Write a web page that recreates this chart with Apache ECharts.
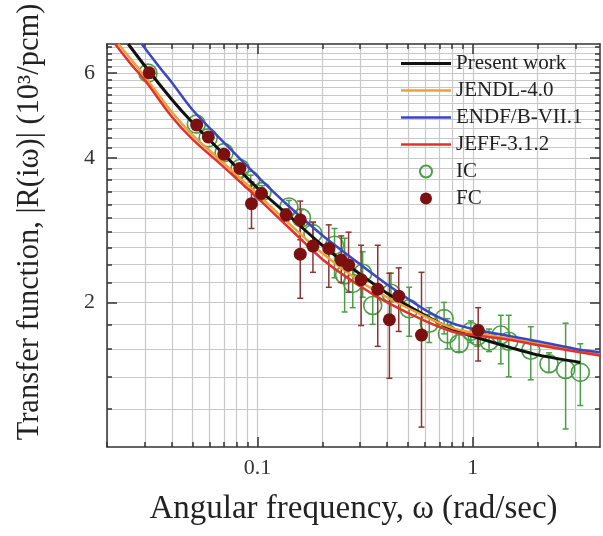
<!DOCTYPE html>
<html>
<head>
<meta charset="utf-8">
<script src="https://cdn.jsdelivr.net/npm/echarts@6/dist/echarts.min.js"></script>
<style>
  html, body { margin: 0; padding: 0; background: #fff; }
  #chart { width: 603px; height: 536px; }
</style>
</head>
<body>
<div id="chart"></div>
<script>
// tick values
var xMajor = [0.1, 1]
var xGrid = [0.02, 0.03, 0.04, 0.05, 0.06, 0.07, 0.08, 0.09, 0.1,
  0.2, 0.3, 0.4, 0.5, 0.6, 0.7, 0.8, 0.9, 1, 2, 3]
var yMajor = [2, 4, 6]
var yGrid = [1.2, 1.4, 1.6, 1.8, 2, 2.2, 2.4, 2.6, 2.8, 3, 3.2, 3.4, 3.6, 3.8, 4,
  4.2, 4.4, 4.6, 4.8, 5, 5.2, 5.4, 5.6, 5.8, 6, 6.2, 6.4, 6.6, 6.8]

// calculated curves [omega, |R|]
var presentWork = [[0.0251, 6.9], [0.03, 6.21], [0.04, 5.29], [0.05, 4.73], [0.07, 4.06],
  [0.1, 3.46], [0.14, 3.03], [0.2, 2.63], [0.3, 2.29], [0.4, 2.09], [0.6, 1.88],
  [0.8, 1.76], [1, 1.7], [1.5, 1.61], [2, 1.555], [3.16, 1.5]]
var jendl = [[0.0226, 6.9], [0.03, 5.9], [0.04, 4.98], [0.05, 4.46], [0.07, 3.89],
  [0.1, 3.36], [0.14, 2.92], [0.2, 2.53], [0.3, 2.21], [0.4, 2.05], [0.6, 1.87],
  [0.8, 1.77], [1, 1.73], [1.5, 1.68], [2, 1.64], [3, 1.59], [3.9, 1.56]]
var endf = [[0.029, 6.9], [0.035, 6.18], [0.04, 5.74], [0.05, 5.03], [0.07, 4.3],
  [0.1, 3.66], [0.14, 3.17], [0.2, 2.76], [0.3, 2.4], [0.4, 2.18], [0.6, 1.93],
  [0.8, 1.81], [1, 1.76], [1.5, 1.7], [2, 1.66], [3, 1.6], [3.9, 1.575]]
var jeff = [[0.0218, 6.9], [0.0265, 6.18], [0.03, 5.8], [0.04, 4.87], [0.05, 4.37],
  [0.07, 3.82], [0.1, 3.3], [0.14, 2.86], [0.2, 2.46], [0.3, 2.16], [0.4, 2.0],
  [0.6, 1.83], [0.8, 1.74], [1, 1.71], [1.5, 1.67], [2, 1.63], [3, 1.58], [3.9, 1.55]]

// IC measurement
var icX = [0.031, 0.052, 0.059, 0.07, 0.083, 0.093, 0.105, 0.14, 0.16, 0.181, 0.228, 0.254,
  0.277, 0.308, 0.343, 0.417, 0.507, 0.628, 0.736, 0.763, 0.864, 0.98, 1.05, 1.19, 1.35,
  1.47, 1.86, 2.26, 2.7, 3.16]
var icY = [6.0, 4.7, 4.4, 4.1, 3.8, 3.59, 3.4, 3.16, 3.0, 2.78, 2.63, 2.28,
  2.19, 2.3, 1.97, 2.09, 1.94, 1.81, 1.85, 1.72, 1.64, 1.74, 1.7, 1.66, 1.71,
  1.66, 1.59, 1.49, 1.45, 1.43]
var icLo = [5.92, 4.64, 4.34, 4.04, 3.74, 3.5, 3.3, 3.06, 2.88, 2.63, 2.25, 1.91,
  1.95, 2.05, 1.8, 1.85, 1.7, 1.65, 1.72, 1.6, 1.58, 1.65, 1.62, 1.58, 1.49,
  1.4, 1.38, 1.43, 1.09, 1.22]
var icHi = [6.08, 4.76, 4.46, 4.16, 3.86, 3.68, 3.5, 3.26, 3.12, 2.93, 2.85, 2.72,
  2.45, 2.55, 2.15, 2.3, 2.15, 1.95, 2.0, 1.85, 1.72, 1.83, 1.78, 1.76, 1.88,
  1.88, 1.78, 1.57, 1.81, 1.64]

// FC measurement
var fcX = [0.0314, 0.0522, 0.0591, 0.0698, 0.0828, 0.0938, 0.1044, 0.136, 0.158, 0.158,
  0.181, 0.2145, 0.245, 0.265, 0.303, 0.362, 0.41, 0.453, 0.578, 1.06]
var fcY = [6.01, 4.68, 4.42, 4.07, 3.8, 3.21, 3.37, 3.04, 2.97, 2.52,
  2.62, 2.59, 2.45, 2.39, 2.23, 2.13, 1.84, 2.06, 1.71, 1.75]
var fcLo = [5.9, 4.6, 4.34, 4.0, 3.72, 2.85, 3.28, 2.95, 2.7, 2.04,
  2.31, 2.15, 2.2, 2.1, 1.79, 1.62, 1.39, 1.74, 1.1, 1.51]
var fcHi = [6.12, 4.77, 4.5, 4.15, 3.88, 3.56, 3.46, 3.13, 3.25, 3.0,
  2.94, 2.9, 2.75, 2.8, 2.63, 2.63, 2.3, 2.36, 2.31, 1.95]

var FONT = '"Liberation Serif", "Times New Roman", serif'
var AXIS = '#333'
var GRID = '#c8c8c8'

function zipPts(xs, ys) {
  return xs.map(function (x, i) { return [x, ys[i]] })
}
function zipBars(xs, lo, hi) {
  return xs.map(function (x, i) { return [x, lo[i], hi[i]] })
}

function errorBars(color, data, z) {
  return {
    type: 'custom',
    z: z,
    silent: true,
    data: data,
    encode: { x: 0, y: [1, 2] },
    renderItem: function (params, api) {
      var lo = api.coord([api.value(0), api.value(1)])
      var hi = api.coord([api.value(0), api.value(2)])
      var w = 3
      var st = { stroke: color, lineWidth: 1.5 }
      return {
        type: 'group',
        children: [
          { type: 'line', shape: { x1: lo[0], y1: lo[1], x2: hi[0], y2: hi[1] }, style: st },
          { type: 'line', shape: { x1: lo[0] - w, y1: lo[1], x2: lo[0] + w, y2: lo[1] }, style: st },
          { type: 'line', shape: { x1: hi[0] - w, y1: hi[1], x2: hi[0] + w, y2: hi[1] }, style: st }
        ]
      }
    }
  }
}

function curve(name, color, width, data) {
  return {
    name: name,
    type: 'line',
    z: 4,
    data: data,
    symbol: 'none',
    smooth: 0.3,
    clip: true,
    lineStyle: { color: color, width: width },
    itemStyle: { color: color }
  }
}

function xAxisOf(pos, ticks, len, extra) {
  return Object.assign({
    type: 'log',
    logBase: 10,
    min: 0.02,
    max: 3.9,
    position: pos,
    axisLine: { show: false },
    axisTick: { show: true, inside: true, length: len, customValues: ticks, lineStyle: { color: AXIS, width: 1.5 } },
    axisLabel: { show: false },
    splitLine: { show: false }
  }, extra || {})
}
function yAxisOf(pos, ticks, len, extra) {
  return Object.assign({
    type: 'log',
    logBase: 10,
    min: 1,
    max: 6.9,
    position: pos,
    axisLine: { show: false },
    axisTick: { show: true, inside: true, length: len, customValues: ticks, lineStyle: { color: AXIS, width: 1.5 } },
    axisLabel: { show: false },
    splitLine: { show: false }
  }, extra || {})
}

var chart = echarts.init(document.getElementById('chart'))
chart.setOption({
  backgroundColor: '#fff',
  animation: false,
  grid: { left: 107, right: 3, top: 44, bottom: 89 },
  graphic: [{
    type: 'text',
    x: 30,
    y: 222,
    rotation: Math.PI / 2,
    style: {
      text: 'Transfer function, |R(iω)| (10³/pcm)',
      font: '30.5px ' + FONT,
      fill: '#222',
      align: 'center',
      verticalAlign: 'middle'
    }
  }],
  legend: {
    orient: 'vertical',
    left: 396,
    top: 48,
    itemWidth: 50,
    itemHeight: 12,
    itemGap: 6,
    textStyle: { fontFamily: FONT, fontSize: 21, color: '#222' },
    data: [
      { name: 'Present work', icon: 'path://M0,0H50V3H0Z' },
      { name: 'JENDL-4.0', icon: 'path://M0,0H50V2.5H0Z' },
      { name: 'ENDF/B-VII.1', icon: 'path://M0,0H50V2.5H0Z' },
      { name: 'JEFF-3.1.2', icon: 'path://M0,0H50V2.5H0Z' },
      'IC',
      'FC'
    ]
  },
  xAxis: [
    xAxisOf('bottom', xMajor, 10, {
      axisLine: { show: true, onZero: false, lineStyle: { color: AXIS, width: 1.5 } },
      axisLabel: {
        show: true, customValues: xMajor, margin: 10,
        fontFamily: FONT, fontSize: 22, color: '#333',
        formatter: function (v) { return String(v) }
      },
      name: 'Angular frequency, ω (rad/sec)',
      nameLocation: 'middle',
      nameGap: 46,
      nameTextStyle: { fontFamily: FONT, fontSize: 33, color: '#222' }
    }),
    xAxisOf('bottom', xGrid, 5, {
      splitLine: { show: true, lineStyle: { color: GRID, width: 1.2 } }
    }),
    xAxisOf('top', xGrid, 5, {
      axisLine: { show: true, onZero: false, lineStyle: { color: AXIS, width: 1.5 } }
    }),
    xAxisOf('top', xMajor, 10)
  ],
  yAxis: [
    yAxisOf('left', yMajor, 10, {
      axisLine: { show: true, onZero: false, lineStyle: { color: AXIS, width: 1.5 } },
      axisLabel: {
        show: true, customValues: yMajor, margin: 12,
        fontFamily: FONT, fontSize: 22, color: '#333',
        formatter: function (v) { return String(v) }
      }
    }),
    yAxisOf('left', yGrid, 5, {
      splitLine: { show: true, lineStyle: { color: GRID, width: 1.2 } }
    }),
    yAxisOf('right', yGrid, 5, {
      axisLine: { show: true, onZero: false, lineStyle: { color: AXIS, width: 1.5 } }
    }),
    yAxisOf('right', yMajor, 10)
  ],
  series: [
    errorBars('#4a9e45', zipBars(icX, icLo, icHi), 1),
    {
      name: 'IC',
      type: 'scatter',
      z: 2,
      data: zipPts(icX, icY),
      symbol: 'circle',
      symbolSize: 18,
      itemStyle: { color: 'rgba(255,255,255,0)', borderColor: '#4a9e45', borderWidth: 1.6, opacity: 1 }
    },
    errorBars('#8a3535', zipBars(fcX, fcLo, fcHi), 3),
    curve('Present work', '#111111', 3, presentWork),
    curve('JENDL-4.0', '#f0a035', 2.5, jendl),
    curve('ENDF/B-VII.1', '#3b46c4', 2.5, endf),
    curve('JEFF-3.1.2', '#e3302c', 2.5, jeff),
    {
      name: 'FC',
      type: 'scatter',
      z: 5,
      data: zipPts(fcX, fcY),
      symbol: 'circle',
      symbolSize: 13,
      itemStyle: { color: '#7a1010', opacity: 1 }
    }
  ]
})
</script>
</body>
</html>
